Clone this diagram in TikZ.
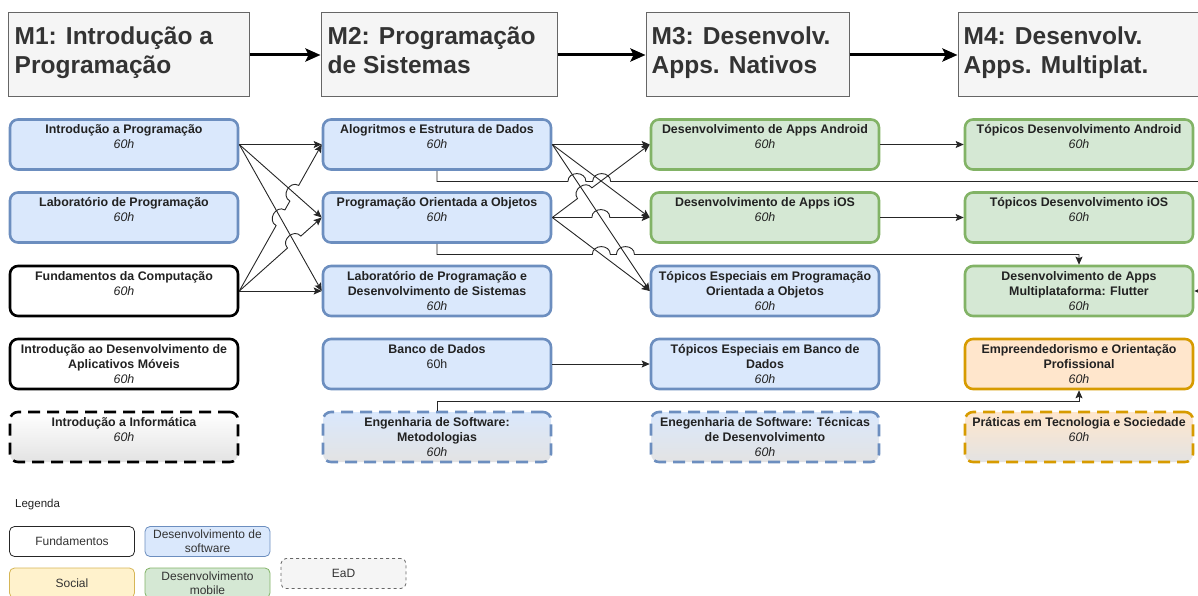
\documentclass[tikz,border=0pt]{standalone}
\usepackage{fontspec}
\setmainfont{Liberation Sans}
\usetikzlibrary{arrows.meta,calc,intersections}
\definecolor{txt}{HTML}{222222}
\definecolor{ltxt}{HTML}{333333}
\definecolor{hdrfill}{HTML}{F5F5F5}
\definecolor{hdrdraw}{HTML}{666666}
\definecolor{bluefill}{HTML}{DAE8FC}
\definecolor{bluedraw}{HTML}{6C8EBF}
\definecolor{greenfill}{HTML}{D5E8D4}
\definecolor{greendraw}{HTML}{82B366}
\definecolor{orangefill}{HTML}{FFE6CC}
\definecolor{orangedraw}{HTML}{D79B00}
\definecolor{yellowfill}{HTML}{FFF2CC}
\definecolor{yellowdraw}{HTML}{D6B656}
\definecolor{eadgray}{HTML}{E3E3E3}
\newcommand\hopr{9pt}
\newcommand\hh{{\mdseries\itshape 60h}}
\newcommand\course[5]{%
  \node[box,#4] (#1) at (#2,#3) {};
  \node[ctext] (#1-t) at ($(#1.north)+(0,6.5)$) {#5};}
\tikzset{
  box/.style={rectangle, rounded corners=8pt, line width=2.6pt, minimum width=228pt, minimum height=50pt, inner sep=0pt},
  sw/.style={fill=bluefill, draw=bluedraw},
  mob/.style={fill=greenfill, draw=greendraw},
  fund/.style={fill=white, draw=black},
  soc/.style={fill=orangefill, draw=orangedraw},
  dsh/.style={dash pattern=on 12pt off 7pt},
  ctext/.style={anchor=north, inner sep=0pt, align=center, text=txt, font=\fontsize{12.4}{15}\selectfont\bfseries},
  hdr/.style={rectangle, fill=hdrfill, draw=hdrdraw, line width=1pt, minimum height=84pt, inner sep=0pt},
  hdrtext/.style={anchor=north west, inner sep=0pt, align=left, text=ltxt, font=\fontsize{24.5}{29}\selectfont\bfseries},
  bigarrow/.style={line width=3pt, draw=black, -{Stealth[length=15pt,width=13pt,inset=3pt]}},
  edge/.style={line width=0.9pt, draw=black!85, -{Stealth[length=8pt,width=7pt,inset=1.5pt]}},
  hop/.style={bend left=90, looseness=1.5},
  leg/.style={rectangle, rounded corners=5pt, line width=0.8pt, minimum width=125pt, minimum height=30pt, inner sep=0pt, align=center, text=ltxt, font=\fontsize{12}{14}\selectfont},
}
\begin{document}
\begin{tikzpicture}[x=1pt,y=-1pt]
\useasboundingbox (0,0) rectangle (1198,596);

% headers
\node[hdr, minimum width=241pt] (m1) at (128.5,55) {};
\node[hdr, minimum width=236pt] (m2) at (439,55) {};
\node[hdr, minimum width=203pt] (m3) at (747.5,55) {};
\node[hdr, minimum width=254pt] (m4) at (1085,55) {};
\node[hdrtext] (m1-t) at ($(m1.north west)+(7,14)$) {M1: Introdução a\\Programação};
\node[hdrtext] (m2-t) at ($(m2.north west)+(7,14)$) {M2: Programação\\de Sistemas};
\node[hdrtext] (m3-t) at ($(m3.north west)+(6,14)$) {M3: Desenvolv.\\Apps. Nativos};
\node[hdrtext] (m4-t) at ($(m4.north west)+(6,14)$) {M4: Desenvolv.\\Apps. Multiplat.};
\draw[bigarrow] (m1.east) -- (m2.west);
\draw[bigarrow] (m2.east) -- (m3.west);
\draw[bigarrow] (m3.east) -- (m4.west);

% column 1
\course{ip}{124}{144.5}{sw}{Introdução a Programação\\\hh}
\course{lp}{124}{217.5}{sw}{Laboratório de Programação\\\hh}
\course{fc}{124}{291}{fund}{Fundamentos da Computação\\\hh}
\course{idam}{124}{364}{fund}{Introdução ao Desenvolvimento de\\Aplicativos Móveis\\\hh}
\course{ii}{124}{437}{dsh, draw=black, top color=white, bottom color=eadgray}{Introdução a Informática\\\hh}
% column 2
\course{aed}{437}{144.5}{sw}{Alogritmos e Estrutura de Dados\\\hh}
\course{poo}{437}{217.5}{sw}{Programação Orientada a Objetos\\\hh}
\course{lpds}{437}{291}{sw}{Laboratório de Programação e\\Desenvolvimento de Sistemas\\\hh}
\course{bd}{437}{364}{sw}{Banco de Dados\\{\mdseries 60h}}
\course{esm}{437}{437}{dsh, draw=bluedraw, top color=bluefill, bottom color=eadgray}{Engenharia de Software:\\Metodologias\\\hh}
% column 3
\course{and}{765}{144.5}{mob}{Desenvolvimento de Apps Android\\\hh}
\course{ios}{765}{217.5}{mob}{Desenvolvimento de Apps iOS\\\hh}
\course{tepoo}{765}{291}{sw}{Tópicos Especiais em Programação\\Orientada a Objetos\\\hh}
\course{tebd}{765}{364}{sw}{Tópicos Especiais em Banco de\\Dados\\\hh}
\course{estd}{765}{437}{dsh, draw=bluedraw, top color=bluefill, bottom color=eadgray}{Enegenharia de Software: Técnicas\\de Desenvolvimento\\\hh}
% column 4
\course{tand}{1079}{144.5}{mob}{Tópicos Desenvolvimento Android\\\hh}
\course{tios}{1079}{217.5}{mob}{Tópicos Desenvolvimento iOS\\\hh}
\course{flut}{1079}{291}{mob}{Desenvolvimento de Apps\\Multiplataforma: Flutter\\\hh}
\course{emp}{1079}{364}{soc}{Empreendedorismo e Orientação\\Profissional\\\hh}
\course{pts}{1079}{437}{dsh, draw=orangedraw, top color=orangefill, bottom color=eadgray}{Práticas em Tecnologia e Sociedade\\\hh}

% intersection helpers, column 1 -> 2
\path[name path=ipPOO] (ip.east) -- (poo.west);
\path[name path=ipLP] (ip.east) -- (lpds.west);
\path[name path=fcAED] (fc.east) -- (aed.west);
\path[name path=fcPOO] (fc.east) -- (poo.west);
\path[name intersections={of=fcAED and ipLP, by=x1}];
\path[name intersections={of=fcAED and ipPOO, by=x2}];
\path[name intersections={of=fcPOO and ipLP, by=x3}];

\draw[edge] (ip.east) -- (aed.west);
\draw[edge] (ip.east) -- (poo.west);
\draw[edge] (ip.east) -- (lpds.west);
\draw[edge] (fc.east) -- (lpds.west);
\draw[edge] (fc.east) -- ($(x1)!\hopr!(fc.east)$) to[hop] ($(x1)!\hopr!(aed.west)$)
  -- ($(x2)!\hopr!(fc.east)$) to[hop] ($(x2)!\hopr!(aed.west)$) -- (aed.west);
\draw[edge] (fc.east) -- ($(x3)!\hopr!(fc.east)$) to[hop] ($(x3)!\hopr!(poo.west)$) -- (poo.west);

% column 2 -> 3
\coordinate (c1) at (437,181.5);
\coordinate (r1) at (1206,181.5);
\coordinate (c2) at (437,254.5);
\coordinate (d2) at (c2 -| flut.north);
\coordinate (c3) at (437,401);
\path[name path=aTE] (aed.east) -- (tepoo.west);
\path[name path=aIOS] (aed.east) -- (ios.west);
\path[name path=pAND] (poo.east) -- (and.west);
\path[name path=pIOS] (poo.east) -- (ios.west);
\path[name path=pTE] (poo.east) -- (tepoo.west);
\path[name path=hz1] (c1) -- (r1);
\path[name path=hz2] (c2) -- (d2);
\path[name intersections={of=pAND and aTE, by=y1}];
\path[name intersections={of=pIOS and aTE, by=y2}];
\path[name intersections={of=hz1 and aTE, by=y3}];
\path[name intersections={of=hz1 and aIOS, by=y4}];
\path[name intersections={of=hz2 and pTE, by=y5}];
\path[name intersections={of=hz2 and aTE, by=y6}];

\draw[edge] (aed.east) -- (and.west);
\draw[edge] (aed.east) -- (ios.west);
\draw[edge] (aed.east) -- (tepoo.west);
\draw[edge] (poo.east) -- ($(y1)!\hopr!(poo.east)$) to[hop] ($(y1)!\hopr!(and.west)$) -- (and.west);
\draw[edge] (poo.east) -- ($(y2)!\hopr!(poo.east)$) to[hop] ($(y2)!\hopr!(ios.west)$) -- (ios.west);
\draw[edge] (poo.east) -- (tepoo.west);
\draw[edge] (aed.south) -- (c1) -- ($(y3)!\hopr!(c1)$) to[hop] ($(y3)!\hopr!(r1)$)
  -- ($(y4)!\hopr!(c1)$) to[hop] ($(y4)!\hopr!(r1)$) -- (r1) -- (r1 |- flut.east) -- (flut.east);
\draw[edge] (poo.south) -- (c2) -- ($(y5)!\hopr!(c2)$) to[hop] ($(y5)!\hopr!(d2)$)
  -- ($(y6)!\hopr!(c2)$) to[hop] ($(y6)!\hopr!(d2)$) -- (d2) -- (flut.north);
\draw[edge] (bd.east) -- (tebd.west);
\draw[edge] (esm.north) -- (c3) -- (c3 -| emp.south) -- (emp.south);
% column 3 -> 4
\draw[edge] (and.east) -- (tand.west);
\draw[edge] (ios.east) -- (tios.west);

% legend
\node[anchor=west, inner sep=0pt, text=txt, font=\fontsize{11.5}{13}\selectfont] (legtitle) at (15,505) {Legenda};
\node[leg, fill=white, draw=black!85] (lf) at (72,541.5) {Fundamentos};
\node[leg, fill=bluefill, draw=bluedraw] (ls) at (207.5,541.5) {Desenvolvimento de\\software};
\node[leg, fill=yellowfill, draw=yellowdraw] (lso) at (72,583) {Social};
\node[leg, fill=greenfill, draw=greendraw] (lm) at (207.5,583) {Desenvolvimento\\mobile};
\node[leg, fill=hdrfill, draw=hdrdraw, dashed] (le) at (343.5,573.5) {EaD};
\end{tikzpicture}
\end{document}
